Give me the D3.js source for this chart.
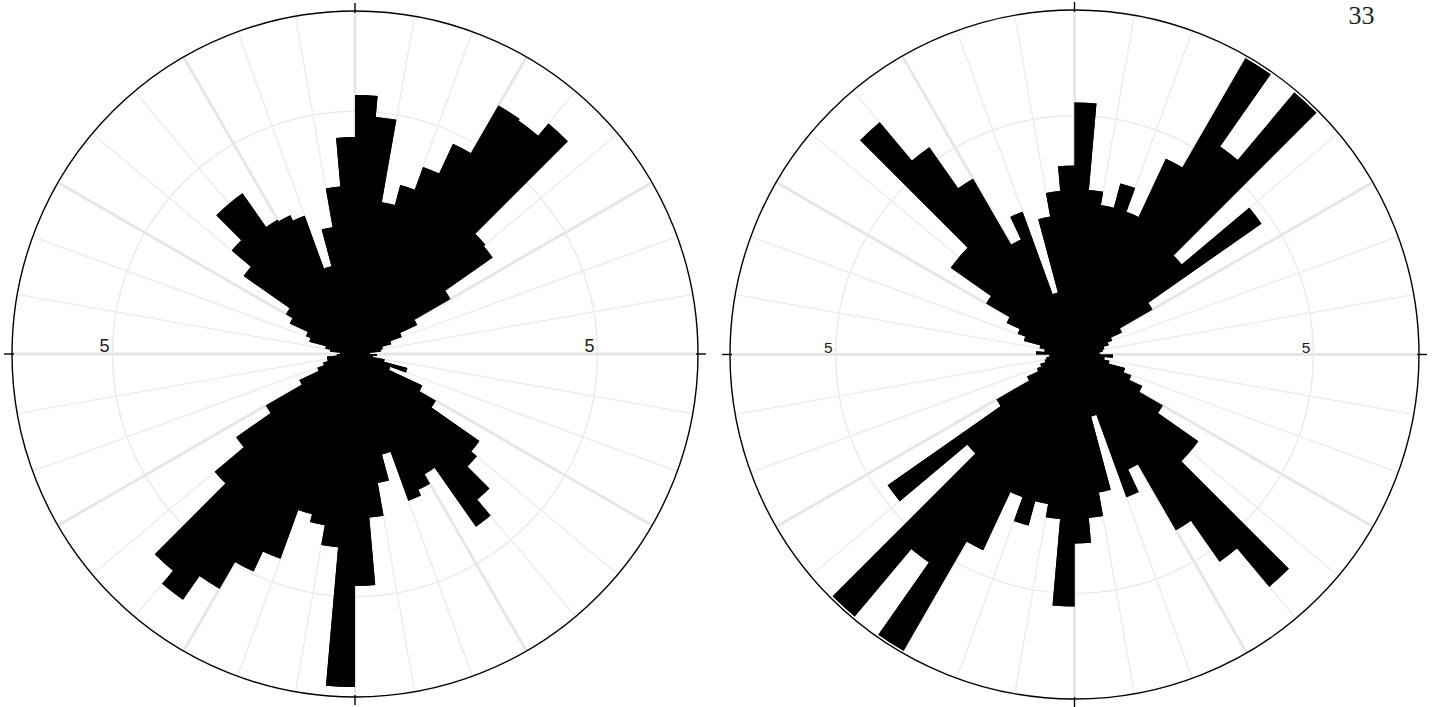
<!DOCTYPE html>
<html>
<head>
<meta charset="utf-8">
<script src="https://cdn.jsdelivr.net/npm/d3@7"></script>
<style>
  html, body { margin: 0; padding: 0; background: #ffffff; }
  svg { display: block; }
</style>
</head>
<body>
<svg id="chart" width="1434" height="707"></svg>
<script>
// Rose diagrams: 5-degree bins, azimuth measured clockwise from north.
const binWidth = 5;

// Left rose: 72 bins, 0-360 degrees (non-axial).
const leftValues = [
  5.70, 4.81, 2.02, 2.60, 3.37, 4.57, 7.00, 6.90, 7.70, 2.46, 2.40, 1.03,
  0.40, 0.21, 0.12, 0.067, 0.057, 0.019, 0.041, 0.028, 0.077, 0.25, 0.12, 0.47,
  0.74, 1.96, 2.15, 3.07, 3.78, 1.64, 1.91, 2.07, 0.92, 1.46, 2.29, 4.57,
  9.43, 3.20, 2.57, 2.34, 4.04, 4.90, 6.24, 7.65, 6.81, 2.85, 1.79, 0.90,
  0.32, 0.136, 0.093, 0.067, 0.067, 0.028, 0.019, 0.053, 0.077, 0.19, 0.23, 0.44,
  0.54, 1.57, 2.20, 3.27, 3.27, 2.04, 1.99, 1.84, 0.70, 1.41, 2.40, 4.00
];

// Right rose: axial data, 36 bins over 0-180 degrees, repeated at +180.
const rightHalfValues = [
  5.56, 2.39, 2.02, 2.75, 2.02, 4.09, 10.25, 5.65, 10.25, 1.72, 4.56, 0.71,
  0.24, 0.14, 0.11, 0.08, 0.07, 0.055, 0.13, 0.08, 0.11, 0.24, 0.32, 0.49,
  0.91, 2.00, 2.00, 8.05, 5.61, 3.61, 1.41, 2.02, 0.36, 1.72, 2.36, 3.13
];

// Ring grid values and their labels.
const ringValues = [5];
const ringLabels = ["5"];

// Scale maxima (outer circle) for each rose.
const leftMax = 10;
const rightMax = 10.4;

const pageNumber = "33";

const svg = d3.select("#chart");

function toBins(values) {
  return values.map((v, i) => ({ a0: i * binWidth, a1: (i + 1) * binWidth, value: v }));
}

function drawRose(opts) {
  const { cx, cy, R, vmax, values, labelSize } = opts;
  const g = svg.append("g").attr("transform", `translate(${cx},${cy})`);
  const r = d3.scaleSqrt().domain([0, vmax]).range([0, R]);
  const rad = Math.PI / 180;
  const bins = toBins(values);

  // Radial grid every 10 degrees; heavier every 30 degrees.
  const spokes = d3.range(0, 360, 10);
  g.append("g").selectAll("line").data(spokes).join("line")
    .attr("x1", 0).attr("y1", 0)
    .attr("x2", d => R * Math.sin(d * rad))
    .attr("y2", d => -R * Math.cos(d * rad))
    .attr("stroke", d => d % 30 === 0 ? "#e6e6e6" : "#ececec")
    .attr("stroke-width", d => d % 30 === 0 ? 2.8 : 1.3);

  // Ring grid
  g.append("g").selectAll("circle").data(ringValues).join("circle")
    .attr("r", d => r(d))
    .attr("fill", "none")
    .attr("stroke", "#e9e9e9")
    .attr("stroke-width", 1.3);

  const arc = d3.arc()
    .innerRadius(0)
    .outerRadius(d => r(d.value))
    .startAngle(d => d.a0 * rad)
    .endAngle(d => d.a1 * rad);

  // Merged silhouette of all petals, so neighbouring bins join without seams
  g.append("path")
    .attr("d", bins.map(d => arc(d)).join(""))
    .attr("fill", "#000000");

  // Individual petals
  g.append("g").selectAll("path").data(bins).join("path")
    .attr("d", arc)
    .attr("fill", "#000000");

  // Outer boundary
  g.append("circle")
    .attr("r", R)
    .attr("fill", "none")
    .attr("stroke", "#000000")
    .attr("stroke-width", 1.4);

  // Cardinal ticks
  g.append("g").selectAll("line").data([0, 90, 180, 270]).join("line")
    .attr("x1", d => (R - 2) * Math.sin(d * rad))
    .attr("y1", d => -(R - 2) * Math.cos(d * rad))
    .attr("x2", d => (R + 8) * Math.sin(d * rad))
    .attr("y2", d => -(R + 8) * Math.cos(d * rad))
    .attr("stroke", "#000000")
    .attr("stroke-width", 1.4);

  // Ring labels on the east-west axis
  const lab = g.append("g")
    .attr("font-family", "Liberation Sans, Arial, sans-serif")
    .attr("font-size", labelSize)
    .attr("fill", "#1a1a1a")
    .attr("text-anchor", "end");
  ringValues.forEach((v, i) => {
    [1, -1].forEach(side => {
      lab.append("text")
        .attr("x", side * r(v) - 3)
        .attr("y", -2)
        .text(ringLabels[i]);
    });
  });
}

drawRose({ cx: 355, cy: 354, R: 343, vmax: leftMax, values: leftValues, labelSize: 18 });
drawRose({
  cx: 1074.5, cy: 354.5, R: 344.5, vmax: rightMax,
  values: rightHalfValues.concat(rightHalfValues), labelSize: 15.5
});

svg.append("text")
  .attr("x", 1361.5)
  .attr("y", 23.5)
  .attr("text-anchor", "middle")
  .attr("font-family", "Liberation Serif, Times New Roman, serif")
  .attr("font-size", 26)
  .attr("fill", "#1e1e1e")
  .text(pageNumber);
</script>
</body>
</html>
